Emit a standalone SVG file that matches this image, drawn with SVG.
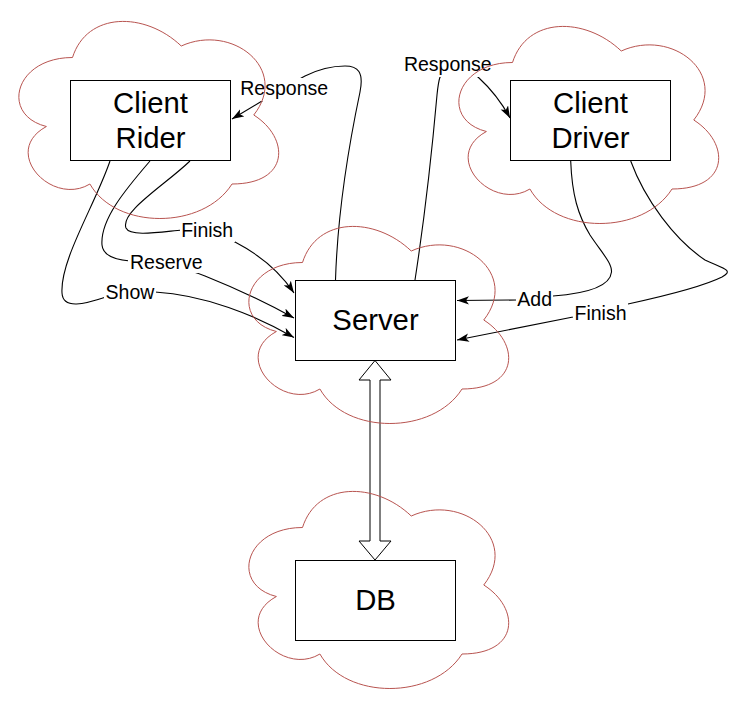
<svg xmlns="http://www.w3.org/2000/svg" xmlns:xlink="http://www.w3.org/1999/xlink" width="731" height="701" viewBox="0 0 731 701">
<style>
.cloud{fill:none;stroke:#b85450;stroke-width:1}
.box{fill:#ffffff;stroke:#000000;stroke-width:1}
.btxt{font-family:"Liberation Sans",Arial,sans-serif;font-size:29.3px;fill:#000;text-anchor:middle}
.edge{fill:none;stroke:#000000;stroke-width:1.1;marker-end:url(#arr)}
.lbg{fill:#ffffff;stroke:none}
.ltxt{font-family:"Liberation Sans",Arial,sans-serif;font-size:19.5px;fill:#000;text-anchor:middle}
</style>
<defs>
<marker id="arr" markerUnits="userSpaceOnUse" markerWidth="12" markerHeight="9" refX="10" refY="3.5" orient="auto" viewBox="0 0 10 7">
<path d="M0,0 L10,3.5 L0,7 L2.5,3.5 Z" fill="#000"/>
</marker>
<path id="cloudShape" d="M72.5,57.5 C14.5,57.5 0,115 46.4,126.5 C0,151.8 52.2,207 89.9,184 C116,230 203,230 232,184 C290,184 290,138 253.75,115 C290,69 232,23 181.25,46 C145,11.5 87,11.5 72.5,57.5 Z"/>
</defs>
<rect x="0" y="0" width="731" height="701" fill="#ffffff"/>

<g id="connectors">
<path class="edge" d="M110,161 C95,205 60,260 62,293 C63,310 85,304 106,297 C122,293 140,291 155,292 C205,295 255,315 294,337.5"/>
<path class="edge" d="M150,161 C125,190 100,220 102,245 C103,257 118,260 130,261 C160,263 185,268 205,276 C230,286 265,302 294,318"/>
<path class="edge" d="M190,161 C165,185 120,212 126,228 C130,237 160,232 182,230 C200,229 220,234 235,242 C258,254 280,272 294,293"/>
<path class="edge" d="M335.5,280 C338,200 352,130 360,92 C364,72 358,66 345,66 C330,66 315,71 305,76 C290,84 275,93 262,101 L232,119"/>
<path class="edge" d="M415,280 C425,215 433,140 437,95 C438,85 439,80 440,77 C450,70 470,70 478,77 C490,88 502,103 510,118"/>
<path class="edge" d="M570.7,161 C572,195 578,215 590,235 C602,253 612,263 611.5,272 C610,288 580,294 553,296 C540,297 530,299 517,300 L457,300.5"/>
<path class="edge" d="M630.7,161 C645,200 675,240 705,260 C722,268 735,270 722,277 C700,288 660,297 628,304 C610,308 590,313 573,317 L457,340"/>
<polygon points="375,360.5 391,380 380,380 380,541 391,541 375,560 359,541 370,541 370,380 359,380" fill="#ffffff" stroke="#000" stroke-width="1"/>

<rect class="lbg" x="104" y="281" width="52" height="22"/>
<text class="ltxt" x="130" y="298.7">Show</text>
<rect class="lbg" x="128" y="251" width="77" height="22"/>
<text class="ltxt" x="166.3" y="269">Reserve</text>
<rect class="lbg" x="180" y="220" width="55" height="22"/>
<text class="ltxt" x="207.2" y="237.3">Finish</text>
<rect class="lbg" x="239" y="78" width="90" height="23"/>
<text class="ltxt" x="284.2" y="95">Response</text>
<rect class="lbg" x="402" y="54" width="91" height="23"/>
<text class="ltxt" x="447.8" y="71">Response</text>
<rect class="lbg" x="516" y="288" width="37" height="21"/>
<text class="ltxt" x="534.7" y="305.7">Add</text>
<rect class="lbg" x="573" y="302" width="55" height="22"/>
<text class="ltxt" x="600.5" y="320">Finish</text>
</g>

<g id="node-client-rider">
<use xlink:href="#cloudShape" href="#cloudShape" class="cloud" transform="translate(0,0)"/>
<rect class="box" x="70.5" y="80.5" width="160" height="80"/>
<text class="btxt" x="150.5" y="112.7">Client</text>
<text class="btxt" x="150.5" y="148.3">Rider</text>
</g>

<g id="node-client-driver">
<use xlink:href="#cloudShape" href="#cloudShape" class="cloud" transform="translate(440,5)"/>
<rect class="box" x="510.5" y="80.5" width="160" height="80"/>
<text class="btxt" x="590.5" y="112.7">Client</text>
<text class="btxt" x="590.5" y="148.3">Driver</text>
</g>

<g id="node-server">
<use xlink:href="#cloudShape" href="#cloudShape" class="cloud" transform="translate(230,205)"/>
<rect class="box" x="295.5" y="280.5" width="160" height="80"/>
<text class="btxt" x="375.5" y="330">Server</text>
</g>

<g id="node-db">
<use xlink:href="#cloudShape" href="#cloudShape" class="cloud" transform="translate(230,470)"/>
<rect class="box" x="295.5" y="560.5" width="160" height="80"/>
<text class="btxt" x="375.5" y="610">DB</text>
</g>
</svg>
